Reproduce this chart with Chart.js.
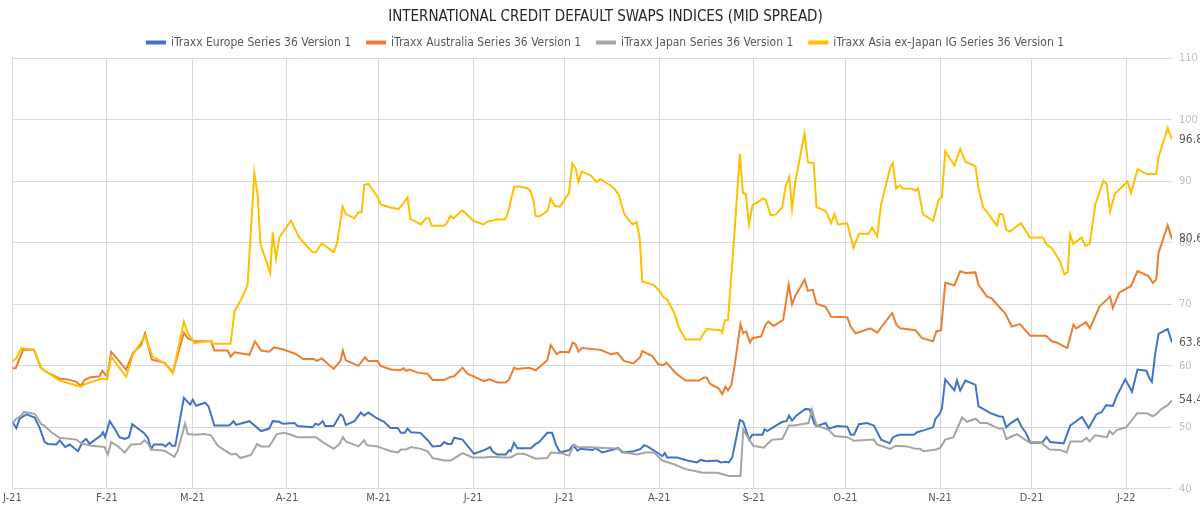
<!DOCTYPE html>
<html>
<head>
<meta charset="utf-8">
<title>iTraxx CDS indices</title>
<script src="https://cdn.jsdelivr.net/npm/chart.js@4.4.1/dist/chart.umd.min.js"></script>
<style>
  html, body { margin: 0; padding: 0; background: #fff; }
</style>
</head>
<body>
<canvas id="cdsChart" width="1200" height="512"></canvas>
<script>
// x = days since 1 Jan 2021, y = mid spread (bp)
const monthStarts = [0, 31, 59, 90, 120, 151, 181, 212, 243, 273, 304, 334, 365];
const monthLabels = ['J-21', 'F-21', 'M-21', 'A-21', 'M-21', 'J-21', 'J-21', 'A-21', 'S-21', 'O-21', 'N-21', 'D-21', 'J-22'];
const yTicks = [40, 50, 60, 70, 80, 90, 100, 110];

const seriesNames = [
    'iTraxx Europe Series 36 Version 1',
    'iTraxx Australia Series 36 Version 1',
    'iTraxx Japan Series 36 Version 1',
    'iTraxx Asia ex-Japan IG Series 36 Version 1'
];

const europe = [[0,50.9],[1.3,49.9],[2.4,51.4],[4.6,52.1],[7.3,51.6],[8.9,50.0],[10.6,47.6],[11.7,47.3],[14.4,47.2],[15.5,47.9],[17.3,46.8],[18.8,47.2],[21.5,46.1],[23.1,47.7],[24.2,48.1],[25.3,47.3],[29.1,48.7],[29.7,49.2],[30.4,48.4],[31.9,51.0],[33.5,49.8],[35.1,48.4],[36.8,48.1],[38.2,48.4],[39.3,50.5],[41.7,49.6],[43.1,49.1],[44.4,48.3],[45.5,46.5],[46.4,47.2],[49.3,47.2],[50.1,46.9],[51.5,47.5],[52.3,47.0],[53.4,47.0],[56.2,54.8],[58.3,53.7],[59.1,54.5],[60.2,53.5],[63.2,54.0],[64.3,53.4],[66.2,50.3],[71.1,50.3],[72.5,51.0],[73.3,50.4],[77.7,51.0],[81.5,49.4],[84.2,49.8],[85.3,51.0],[87.5,50.9],[88.6,50.6],[92.4,50.7],[93.5,50.2],[98.4,50.0],[99.3,50.6],[100.4,50.4],[101.7,51.0],[102.5,50.2],[105.3,50.2],[107.5,52.1],[108.3,51.8],[109.3,50.4],[112.1,51.0],[114.2,52.4],[115.3,51.9],[116.6,52.4],[119.7,51.4],[121.8,50.9],[123.9,49.9],[126.3,49.9],[127.3,49.1],[128.6,49.1],[129.5,49.8],[130.6,49.2],[133.7,49.1],[136.1,47.9],[137.7,46.9],[140.4,47.0],[141.5,47.6],[142.6,47.3],[143.9,47.3],[144.8,48.3],[147.5,48.0],[151.3,45.7],[154.6,46.3],[156.6,46.8],[157.3,46.1],[158.8,45.6],[161.7,45.6],[162.8,46.3],[163.3,46.1],[164.4,47.5],[165.5,46.6],[169.9,46.6],[171.5,47.3],[172.6,47.6],[175.3,49.1],[176.9,49.1],[178.1,47.2],[179.5,45.9],[182.4,46.3],[183.8,47.1],[185.2,46.2],[186.2,46.5],[190.1,46.3],[191.2,46.6],[193.3,45.9],[198.5,46.6],[199.9,45.9],[203.7,46.1],[205.9,46.5],[207.0,47.1],[208.1,46.9],[211.9,45.7],[213.0,45.3],[213.8,45.8],[214.6,45.1],[217.9,45.1],[221.2,44.6],[224.4,44.3],[225.5,44.7],[227.5,44.5],[231.0,44.6],[232.1,44.3],[233.7,44.4],[234.8,44.3],[235.9,45.1],[238.4,51.2],[239.5,50.9],[241.4,48.0],[242.5,48.8],[245.8,48.8],[246.5,49.7],[247.4,49.4],[249.0,49.9],[252.3,50.9],[253.7,51.0],[254.5,51.9],[255.5,51.1],[256.9,51.9],[259.9,53.0],[261.3,52.9],[262.8,50.6],[263.5,50.2],[266.5,50.7],[267.5,49.8],[270.4,50.2],[273.6,50.1],[274.7,48.8],[275.8,48.8],[277.4,50.5],[280.1,50.7],[282.3,50.3],[284.7,48.0],[287.5,47.4],[288.6,48.4],[290.5,48.8],[295.4,48.8],[296.5,49.2],[298.6,49.5],[301.7,50.0],[302.5,51.4],[303.9,52.2],[304.6,53.1],[305.7,57.8],[308.7,56.0],[309.5,57.6],[310.6,56.0],[312.3,57.6],[315.6,56.9],[316.6,53.4],[318.1,53.0],[320.5,52.3],[323.2,51.8],[324.6,51.7],[325.7,50.0],[327.0,50.6],[329.4,51.4],[330.8,50.0],[332.0,49.2],[333.6,47.5],[337.4,47.5],[338.9,48.4],[340.1,47.6],[344.5,47.4],[346.7,50.3],[347.8,50.7],[350.5,51.7],[352.7,49.9],[355.2,52.1],[357.0,52.5],[358.4,53.6],[360.6,53.5],[362.0,55.2],[364.7,57.8],[366.9,55.8],[368.7,59.4],[371.6,59.2],[372.7,57.9],[373.4,57.4],[374.5,62.0],[375.6,65.2],[378.6,66.0],[380,63.8]];

const australia = [[0,59.6],[1.1,59.6],[2.4,61.2],[3.5,62.6],[7.1,62.6],[9.3,59.7],[11.1,59.0],[15.5,57.9],[18.2,57.8],[21.0,57.4],[22.4,56.7],[23.7,57.7],[25.3,58.1],[28.6,58.3],[29.5,59.2],[31.1,58.2],[32.4,62.3],[37.3,59.4],[39.5,62.1],[42.2,63.4],[43.5,65.3],[45.7,61.0],[49.9,60.5],[51.5,59.6],[52.6,58.9],[56.2,65.4],[57.5,64.5],[59.7,64.0],[65.1,64.0],[66.2,62.5],[70.6,62.5],[71.5,61.5],[72.8,62.2],[77.7,61.8],[79.5,64.0],[81.5,62.5],[84.2,62.3],[85.7,63.0],[88.6,62.7],[93.0,61.9],[95.2,61.1],[98.7,61.1],[99.8,60.8],[101.4,61.2],[105.3,59.5],[107.5,60.8],[108.3,62.5],[109.3,60.9],[113.4,60.0],[115.6,61.4],[116.6,60.8],[119.7,60.8],[120.6,60.0],[124.1,59.4],[127.1,59.3],[128.2,59.6],[129.0,59.2],[130.1,59.4],[132.8,58.9],[136.1,58.7],[137.7,57.7],[141.5,57.7],[143.5,58.2],[144.8,58.3],[147.5,59.7],[149.2,58.7],[151.1,58.3],[154.6,57.5],[156.3,57.8],[159.0,57.3],[161.7,57.3],[162.8,57.8],[164.4,59.7],[165.5,59.5],[169.3,59.7],[171.5,59.3],[175.3,60.9],[176.4,63.4],[178.4,61.9],[179.5,62.3],[182.4,62.2],[183.6,63.8],[184.6,63.5],[185.5,62.3],[186.6,62.9],[192.8,62.6],[196.1,61.9],[198.3,62.1],[200.4,60.8],[203.5,60.4],[205.7,61.4],[206.4,62.4],[209.7,61.6],[211.6,60.3],[213.3,60.1],[214.4,60.5],[217.4,58.8],[220.6,57.6],[225.0,57.6],[226.6,58.1],[227.5,58.1],[228.6,57.1],[231.5,56.3],[232.6,55.4],[233.7,56.6],[234.5,56.0],[235.6,56.9],[236.7,60.1],[238.6,66.8],[239.5,65.3],[240.5,65.6],[241.7,63.8],[242.5,64.5],[245.4,64.8],[246.8,66.7],[247.7,67.2],[249.5,66.5],[252.6,67.5],[254.4,73.2],[255.5,70.0],[256.6,71.4],[259.6,74.0],[260.7,72.2],[262.3,72.4],[263.5,70.1],[266.5,69.6],[268.3,68.0],[273.6,67.9],[274.7,66.4],[276.3,65.3],[281.2,66.1],[283.4,65.4],[288.3,68.6],[289.7,66.7],[291.0,66.1],[295.9,65.8],[298.1,64.5],[301.7,64.0],[302.8,65.6],[304.3,65.8],[305.7,73.5],[308.7,73.1],[310.6,75.4],[312.3,75.1],[315.6,75.2],[316.6,73.2],[319.3,71.3],[320.9,71.0],[324.2,69.1],[325.3,68.6],[327.5,66.4],[330.2,66.8],[333.5,64.9],[338.7,64.9],[340.6,64.0],[342.2,63.8],[345.7,62.9],[347.7,66.7],[348.6,66.1],[351.8,67.1],[353.1,66.1],[356.2,69.6],[359.7,71.3],[360.6,69.4],[362.7,71.9],[366.6,73.0],[368.7,75.4],[372.3,74.6],[373.7,73.5],[374.8,74.0],[375.6,78.4],[378.6,82.9],[380,80.6]];

const japan = [[0,50.6],[1.3,51.4],[2.9,51.9],[3.8,52.5],[7.3,52.2],[9.5,50.5],[10.4,50.3],[12.8,49.2],[15.5,48.3],[21.0,48.0],[22.6,47.4],[25.9,47.0],[30.2,46.8],[31.3,45.6],[32.4,47.6],[34.6,46.9],[36.8,45.9],[38.9,47.2],[42.0,47.3],[43.3,47.9],[44.4,47.4],[45.5,46.4],[49.9,46.2],[53.1,45.2],[54.2,46.2],[56.6,50.6],[57.5,48.9],[59.7,48.8],[62.9,48.9],[65.1,48.7],[67.3,47.0],[71.7,45.6],[73.3,45.7],[74.7,45.0],[78.2,45.5],[80.2,47.3],[81.5,46.9],[84.2,46.9],[86.7,48.9],[89.1,49.1],[91.3,48.8],[93.5,48.4],[99.5,48.4],[101.7,47.6],[105.3,46.5],[107.2,47.3],[108.3,48.4],[109.3,47.7],[113.4,46.9],[115.3,47.9],[116.2,47.1],[119.7,46.9],[121.8,46.5],[124.1,46.1],[126.3,45.9],[127.3,46.4],[129.0,46.4],[130.6,46.8],[133.9,46.5],[136.1,46.1],[137.7,45.0],[141.5,44.6],[143.7,44.6],[145.3,45.1],[147.5,45.8],[150.8,45.1],[154.6,45.1],[156.8,45.2],[161.2,45.1],[163.3,45.1],[165.5,45.7],[167.7,45.7],[171.5,44.9],[175.3,45.0],[176.4,45.9],[179.7,45.8],[182.4,45.4],[184.1,47.2],[185.2,46.8],[191.2,46.7],[198.8,46.5],[200.5,45.9],[204.8,45.6],[207.5,45.9],[210.3,45.9],[213.0,44.6],[216.8,44.0],[220.6,43.2],[224.4,42.8],[226.1,42.6],[231.0,42.6],[234.8,42.1],[238.6,42.1],[239.5,49.6],[240.3,48.9],[242.8,47.0],[246.3,46.7],[247.4,47.3],[249.0,48.0],[252.3,48.1],[254.5,50.3],[256.2,50.3],[260.9,50.7],[262.0,52.9],[263.5,50.3],[267.5,49.6],[269.4,48.6],[273.6,48.4],[275.8,47.8],[282.3,48.0],[283.4,47.2],[287.7,46.5],[289.4,47.0],[293.3,46.9],[295.9,46.5],[297.5,46.5],[298.6,46.1],[302.8,46.4],[304.1,46.7],[305.7,48.0],[308.4,48.4],[311.2,51.6],[312.8,50.9],[315.6,51.4],[317.2,50.7],[319.4,50.7],[323.2,49.8],[324.6,49.8],[325.7,48.1],[329.2,48.9],[333.0,47.6],[336.9,47.6],[339.9,46.4],[343.4,46.3],[345.5,45.9],[346.7,47.7],[350.5,47.7],[352.0,48.3],[353.0,47.7],[354.8,48.7],[358.7,48.4],[359.5,49.4],[360.6,48.9],[362.0,49.6],[365.0,50.0],[368.6,52.3],[371.7,52.3],[373.7,51.8],[375.0,52.2],[376.6,53.0],[378.6,53.6],[380,54.4]];

const asiaExJapan = [[0,60.7],[1.3,61.2],[2.9,62.9],[7.1,62.6],[9.5,59.6],[15.5,57.6],[22.4,56.6],[23.7,57.0],[29.1,57.9],[31.1,57.8],[32.4,61.5],[37.3,58.2],[39.5,61.8],[43.5,64.9],[45.9,61.5],[49.9,60.4],[52.6,58.8],[56.2,67.2],[57.5,65.3],[59.7,63.7],[65.1,64.1],[65.7,63.6],[71.5,63.6],[72.8,68.9],[75.0,70.8],[77.1,73.2],[79.3,91.4],[80.4,87.7],[81.3,79.8],[84.5,75.1],[85.3,81.7],[86.4,77.4],[87.5,80.9],[91.3,83.6],[94.0,80.9],[95.7,79.9],[98.4,78.5],[99.5,78.5],[101.4,79.9],[105.3,78.5],[106.4,79.9],[108.2,85.9],[109.3,84.7],[112.1,84.0],[113.4,85.0],[114.5,85.0],[115.3,89.4],[116.7,89.6],[119.5,87.6],[120.8,86.2],[122.4,86.0],[123.5,85.8],[126.5,85.5],[127.9,86.3],[129.5,87.4],[130.4,83.9],[133.9,83.0],[135.5,84.0],[136.6,84.0],[137.4,82.8],[141.5,82.8],[142.4,83.2],[143.5,84.4],[144.6,84.0],[147.5,85.3],[151.1,83.6],[154.4,83.0],[155.9,83.5],[157.3,83.6],[158.4,83.8],[161.4,83.8],[162.3,84.7],[164.4,89.1],[165.7,89.2],[168.8,88.9],[169.7,88.5],[170.7,87.1],[171.5,84.4],[172.6,84.3],[175.4,85.2],[176.4,87.2],[177.8,86.0],[179.5,85.9],[182.4,88.1],[183.5,92.9],[184.6,92.1],[185.5,89.9],[186.6,91.6],[189.5,91.0],[191.5,89.9],[192.6,90.4],[196.1,89.3],[197.2,88.9],[198.8,87.7],[200.5,84.7],[203.2,83.0],[204.6,83.4],[205.6,80.6],[206.4,73.7],[208.1,73.5],[210.3,73.1],[212.0,72.2],[213.5,71.1],[214.6,70.8],[216.9,68.6],[218.5,66.1],[220.6,64.3],[225.3,64.3],[227.5,66.0],[232.1,65.8],[232.6,65.4],[233.5,67.4],[234.5,67.4],[236.4,80.0],[238.4,94.5],[239.4,88.1],[240.3,88.0],[241.4,83.0],[242.5,86.1],[246.0,87.2],[246.8,87.1],[248.5,84.5],[250.2,84.6],[252.3,85.8],[253.4,89.2],[254.6,90.7],[255.5,85.5],[256.6,90.1],[259.6,97.8],[260.7,93.1],[262.6,93.0],[263.5,85.8],[266.5,85.2],[268.3,83.2],[269.4,84.7],[270.5,83.0],[273.6,83.2],[275.6,79.2],[277.4,81.5],[280.6,81.5],[281.7,82.5],[283.4,81.1],[284.7,86.3],[287.7,92.3],[288.5,93.0],[289.6,88.8],[290.8,89.4],[291.9,88.8],[294.8,88.8],[296.0,88.5],[296.8,88.9],[298.4,84.7],[301.7,83.6],[303.6,87.1],[304.6,87.4],[305.7,94.9],[308.7,92.6],[310.6,95.3],[312.3,93.2],[315.6,92.5],[316.6,88.9],[318.1,85.8],[319.4,85.0],[322.6,82.8],[323.5,84.7],[324.6,84.6],[325.6,82.2],[326.8,81.8],[330.5,83.2],[333.4,80.9],[337.7,80.9],[339.0,79.7],[340.7,79.1],[343.4,76.9],[344.7,74.9],[345.8,75.2],[346.6,81.4],[347.7,79.8],[350.4,80.9],[351.6,79.5],[353.0,79.8],[354.9,86.3],[357.5,90.1],[358.6,89.6],[359.7,85.1],[361.3,88.0],[365.4,90.0],[366.6,88.1],[368.7,92.0],[371.7,91.2],[374.8,91.2],[375.6,94.0],[378.6,98.7],[380,96.8]];

const seriesColors = ['#4472C4', '#ED7D31', '#A5A5A5', '#FFC000'];
const fontFamily = "'Liberation Sans Narrow', 'DejaVu Sans Condensed', Roboto, sans-serif";

// value printed just right of each series' last point
const endLabels = {
    id: 'endLabels',
    afterDatasetsDraw(chart) {
        const ctx = chart.ctx;
        ctx.save();
        ctx.font = '12px ' + fontFamily;
        ctx.fillStyle = '#595959';
        ctx.textBaseline = 'middle';
        ctx.textAlign = 'left';
        chart.data.datasets.forEach((ds, i) => {
            const pts = chart.getDatasetMeta(i).data;
            const last = pts[pts.length - 1];
            ctx.fillText(ds.data[ds.data.length - 1].y.toFixed(1), chart.chartArea.right + 7, last.y);
        });
        ctx.restore();
    }
};

const toPoints = arr => arr.map(p => ({ x: p[0], y: p[1] }));
const allSeries = [europe, australia, japan, asiaExJapan];

new Chart(document.getElementById('cdsChart'), {
    type: 'line',
    data: {
        datasets: allSeries.map((s, i) => ({
            label: seriesNames[i],
            data: toPoints(s),
            borderColor: seriesColors[i],
            backgroundColor: seriesColors[i],
            borderWidth: 2,
            pointRadius: 0,
            tension: 0,
            order: 4 - i
        }))
    },
    options: {
        responsive: false,
        animation: false,
        layout: { padding: { left: 11, right: 0, top: 0, bottom: 4 } },
        plugins: {
            title: {
                display: true,
                text: 'INTERNATIONAL CREDIT DEFAULT SWAPS INDICES (MID SPREAD)',
                color: '#262626',
                font: { family: fontFamily, size: 15, weight: 'normal', lineHeight: 0.5 },
                padding: { top: 13, bottom: 0 }
            },
            legend: {
                labels: {
                    color: '#595959',
                    font: { family: fontFamily, size: 12 },
                    boxWidth: 18,
                    boxHeight: 2,
                    padding: 16,
                    sort: (a, b) => a.datasetIndex - b.datasetIndex
                }
            },
            tooltip: { enabled: false }
        },
        scales: {
            x: {
                type: 'linear',
                min: 0,
                max: 380,
                afterBuildTicks: scale => { scale.ticks = monthStarts.map(v => ({ value: v })); },
                ticks: {
                    autoSkip: false,
                    maxRotation: 0,
                    color: '#595959',
                    font: { family: fontFamily, size: 11 },
                    padding: 3,
                    callback: v => monthLabels[monthStarts.indexOf(v)]
                },
                grid: { color: '#d9d9d9', drawTicks: false },
                border: { display: false }
            },
            y: {
                position: 'right',
                min: 40,
                max: 110,
                afterBuildTicks: scale => { scale.ticks = yTicks.map(v => ({ value: v })); },
                afterFit: scale => { scale.width = 28; },
                ticks: {
                    color: '#bfbfbf',
                    font: { family: fontFamily, size: 11 },
                    padding: 7
                },
                grid: { color: '#d9d9d9', drawTicks: false },
                border: { display: false }
            }
        }
    },
    plugins: [endLabels]
});
</script>
</body>
</html>
